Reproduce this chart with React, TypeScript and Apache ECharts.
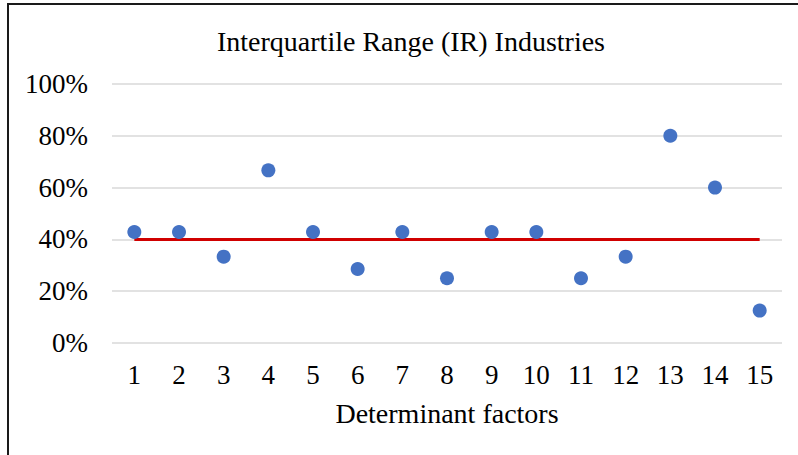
import React, { useEffect, useRef } from "react";
import * as echarts from "echarts";

const categories = ["1", "2", "3", "4", "5", "6", "7", "8", "9", "10", "11", "12", "13", "14", "15"];
const irValues = [0.4286, 0.4286, 0.3333, 0.6667, 0.4286, 0.2857, 0.4286, 0.25, 0.4286, 0.4286, 0.25, 0.3333, 0.8, 0.6, 0.125];
const thresholdValues = [0.4, 0.4, 0.4, 0.4, 0.4, 0.4, 0.4, 0.4, 0.4, 0.4, 0.4, 0.4, 0.4, 0.4, 0.4];
const titleText = "Interquartile Range (IR) Industries";
const xAxisName = "Determinant factors";

const FONT = "'Liberation Serif', 'Times New Roman', serif";

export default function App() {
  const ref = useRef<HTMLDivElement>(null);
  useEffect(() => {
    document.body.style.margin = "0";
    const chart = echarts.init(ref.current!, null, { renderer: "svg" });
    chart.setOption({
      animation: false,
      backgroundColor: "#ffffff",
      title: {
        text: titleText,
        left: 406,
        textAlign: "center",
        top: 22,
        textStyle: { fontFamily: FONT, fontSize: 28, fontWeight: "normal", color: "#000" },
      },
      grid: { left: 112, right: 16, top: 84, bottom: 112 },
      xAxis: {
        type: "category",
        data: categories,
        boundaryGap: true,
        axisLine: { show: false },
        axisTick: { show: false },
        axisLabel: { fontFamily: FONT, fontSize: 27, color: "#000", margin: 18 },
        name: xAxisName,
        nameLocation: "middle",
        nameGap: 56,
        nameTextStyle: { fontFamily: FONT, fontSize: 28, color: "#000" },
      },
      yAxis: {
        type: "value",
        min: 0,
        max: 1,
        interval: 0.2,
        axisLine: { show: false },
        axisTick: { show: false },
        splitLine: { lineStyle: { color: "#d9d9d9", width: 1.5 } },
        axisLabel: {
          fontFamily: FONT,
          fontSize: 27,
          color: "#000",
          margin: 24,
          formatter: (v: number) => Math.round(v * 100) + "%",
        },
      },
      graphic: [
        { type: "line", shape: { x1: 7, y1: 4, x2: 798, y2: 4 }, style: { stroke: "#1a1a1a", lineWidth: 2 } },
        { type: "line", shape: { x1: 8, y1: 3, x2: 8, y2: 455 }, style: { stroke: "#1a1a1a", lineWidth: 2 } },
      ],
      series: [
        {
          type: "line",
          data: thresholdValues,
          symbol: "none",
          lineStyle: { color: "#d00000", width: 3 },
          z: 2,
        },
        {
          type: "scatter",
          data: irValues,
          symbol: "circle",
          symbolSize: 14,
          itemStyle: { color: "#4472c4", opacity: 1 },
          z: 3,
        },
      ],
    });
    return () => chart.dispose();
  }, []);
  return <div ref={ref} style={{ width: 798, height: 455 }} />;
}
